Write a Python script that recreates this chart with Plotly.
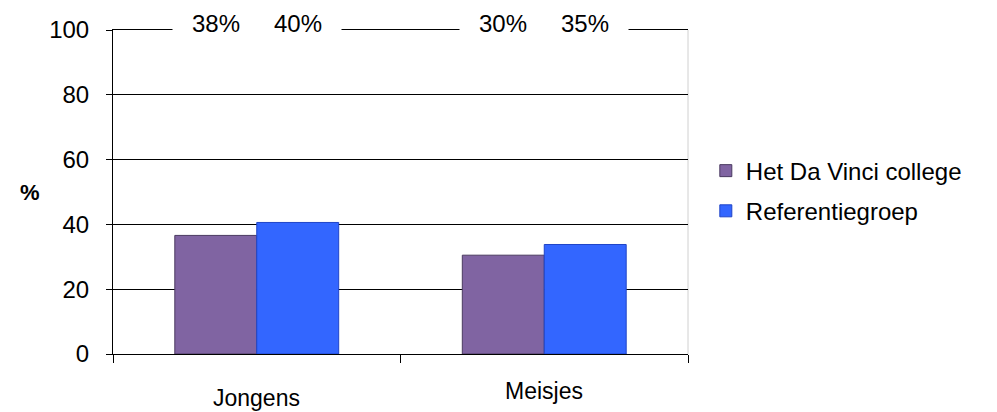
import plotly.graph_objects as go

categories = ["Jongens", "Meisjes"]
series_names = ["Het Da Vinci college", "Referentiegroep"]
davinci = [36.6, 30.5]
referentie = [40.6, 33.8]
top_labels_davinci = ["38%", "30%"]
top_labels_ref = ["40%", "35%"]
y_ticks = [0, 20, 40, 60, 80, 100]

FONT = "Liberation Sans, Arial, sans-serif"
colors = ["#8064A2", "#3366FF"]
edges = ["#4a3a60", "#1f44c8"]

fig = go.Figure()
for name, vals, c, e, grp in zip(series_names, [davinci, referentie], colors, edges, ["a", "b"]):
    fig.add_trace(go.Bar(
        x=categories, y=vals, name=name,
        marker=dict(color=c, line=dict(color=e, width=1)),
        legendgroup=grp,
    ))

# top labels over the 100 gridline
for i, cat in enumerate(categories):
    for lab, shift in [(top_labels_davinci[i], -0.1425), (top_labels_ref[i], 0.1425)]:
        fig.add_annotation(x=i + shift, y=100, xref="x", yref="y", text=lab,
                           showarrow=False, bgcolor="white", yshift=7,
                           borderpad=19, xanchor="center", yanchor="middle",
                           font=dict(family=FONT, size=24, color="black"))

# category labels
for i, cat in enumerate(categories):
    fig.add_annotation(x=cat, y=0, xref="x", yref="y", text=cat, showarrow=False,
                       yanchor="middle", xanchor="center",
                       yshift=-44 if i == 0 else -37,
                       font=dict(family=FONT, size=23, color="black"))

fig.add_annotation(x=-0.144, y=0.497, xref="paper", yref="paper", text="<b>%</b>",
                   xanchor="center", yanchor="middle",
                   showarrow=False, font=dict(family=FONT, size=22, color="black"))

# light frame line at the right edge of the plot area
fig.add_shape(type="line", xref="paper", yref="paper", x0=1, x1=1, y0=0, y1=1,
              line=dict(color="#d0d0d0", width=1), layer="below")

fig.update_layout(
    width=997, height=412,
    margin=dict(l=113, r=309, t=30, b=58),
    paper_bgcolor="white", plot_bgcolor="white",
    barmode="group", bargap=0.43, bargroupgap=0,
    font=dict(family=FONT, color="black"),
    legend=dict(x=1.031, y=0.503, xanchor="left", yanchor="middle",
                font=dict(family=FONT, size=24, color="black"),
                tracegroupgap=6, itemwidth=30),
    showlegend=True,
)
fig.update_xaxes(type="category", tickson="boundaries", ticks="outside", ticklen=8,
                 tickcolor="black", showticklabels=False, showline=True, mirror=True,
                 linecolor="black", linewidth=1, showgrid=False,
                 range=[-0.5, 1.5])
fig.update_yaxes(range=[0, 100], tickvals=y_ticks, ticks="outside", ticklen=6,
                 tickcolor="black", showline=True, linecolor="black", linewidth=1,
                 showgrid=True, gridcolor="black", gridwidth=1, zeroline=False,
                 ticklabelstandoff=12,
                 tickfont=dict(family=FONT, size=24, color="black"))

fig.write_html("out.html")
